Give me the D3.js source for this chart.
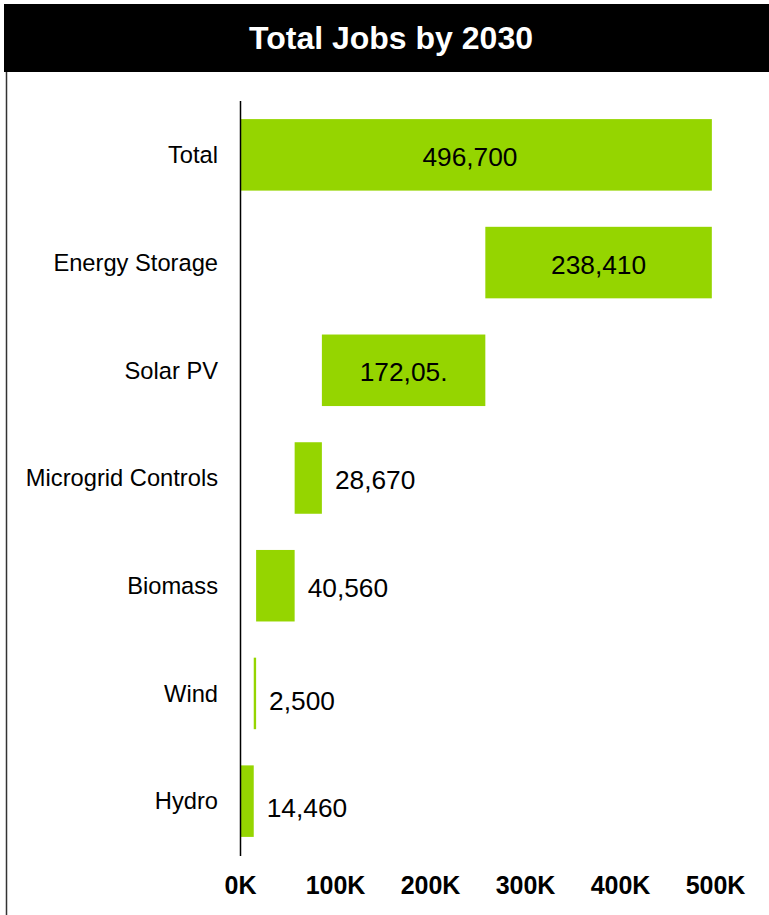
<!DOCTYPE html>
<html>
<head>
<meta charset="utf-8">
<script src="https://cdn.jsdelivr.net/npm/d3@7"></script>
<style>
  html, body { margin: 0; padding: 0; background: #fff; }
  svg { display: block; font-family: "Liberation Sans", Arial, sans-serif; }
</style>
</head>
<body>
<svg id="chart" width="769" height="915"></svg>
<script>
const categories = ["Total", "Energy Storage", "Solar PV", "Microgrid Controls", "Biomass", "Wind", "Hydro"];
const values = [496700, 238410, 172050, 28670, 40560, 2500, 14460];
const valueLabels = ["496,700", "238,410", "172,05.", "28,670", "40,560", "2,500", "14,460"];
const tickValues = [0, 100000, 200000, 300000, 400000, 500000];
const tickLabels = ["0K", "100K", "200K", "300K", "400K", "500K"];
const title = "Total Jobs by 2030";

// waterfall: Total from 0; components stack from the bottom (Hydro) upward
const starts = new Array(categories.length).fill(0);
let acc = 0;
for (let i = categories.length - 1; i >= 1; i--) { starts[i] = acc; acc += values[i]; }
starts[0] = 0;

const svg = d3.select("#chart");
const W = 769, H = 915;

// title bar
svg.append("rect").attr("x", 4).attr("y", 4).attr("width", W - 4).attr("height", 68).attr("fill", "#000");
svg.append("text").attr("x", 391).attr("y", 49).attr("text-anchor", "middle")
  .attr("fill", "#fff").attr("font-weight", "bold").attr("font-size", 32).text(title);

// left frame line
svg.append("line").attr("x1", 6.5).attr("x2", 6.5).attr("y1", 72).attr("y2", H)
  .attr("stroke", "#333").attr("stroke-width", 1.5);

const x = d3.scaleLinear().domain([0, 500000]).range([240, 715]);
const y = d3.scaleBand().domain(categories).range([101, 855]).paddingInner(0.336).paddingOuter(0.168);

const color = "#95d500";

const rows = categories.map((c, i) => ({ c, v: values[i], s: starts[i], lab: valueLabels[i] }));

svg.append("g").selectAll("rect").data(rows).join("rect")
  .attr("x", d => x(d.s))
  .attr("y", d => y(d.c))
  .attr("width", d => Math.max(1.5, x(d.s + d.v) - x(d.s)))
  .attr("height", y.bandwidth())
  .attr("fill", color);

// axis line
svg.append("line").attr("x1", 240.5).attr("x2", 240.5).attr("y1", 101).attr("y2", 856)
  .attr("stroke", "#000").attr("stroke-width", 1.5);

// category labels
svg.append("g").selectAll("text").data(rows).join("text")
  .attr("x", 218).attr("y", d => y(d.c) + y.bandwidth() / 2)
  .attr("dy", "0.35em").attr("text-anchor", "end")
  .attr("font-size", 23.7).attr("fill", "#000").text(d => d.c);

// value labels
const isInside = d => (x(d.s + d.v) - x(d.s)) > 120;
svg.append("g").selectAll("text").data(rows).join("text")
  .attr("x", d => isInside(d) ? (x(d.s) + x(d.s + d.v)) / 2 - (d.c === "Total" ? 6 : 0) : x(d.s + d.v) + 13)
  .attr("y", d => y(d.c) + y.bandwidth() / 2 + (d.v < 20000 ? 7 : 2))
  .attr("dy", "0.35em")
  .attr("text-anchor", d => isInside(d) ? "middle" : "start")
  .attr("font-size", 26.3).attr("fill", "#000").text(d => d.lab);

// x axis tick labels
const axis = d3.axisBottom(x).tickValues(tickValues).tickFormat((d, i) => tickLabels[i]).tickSize(0).tickPadding(0);
const gx = svg.append("g").attr("transform", "translate(0,876)").call(axis);
gx.select(".domain").remove();
gx.selectAll("text").attr("font-size", 25).attr("font-weight", "bold").attr("fill", "#000")
  .attr("font-family", "Liberation Sans, Arial, sans-serif").attr("dy", "0.72em");
</script>
</body>
</html>
